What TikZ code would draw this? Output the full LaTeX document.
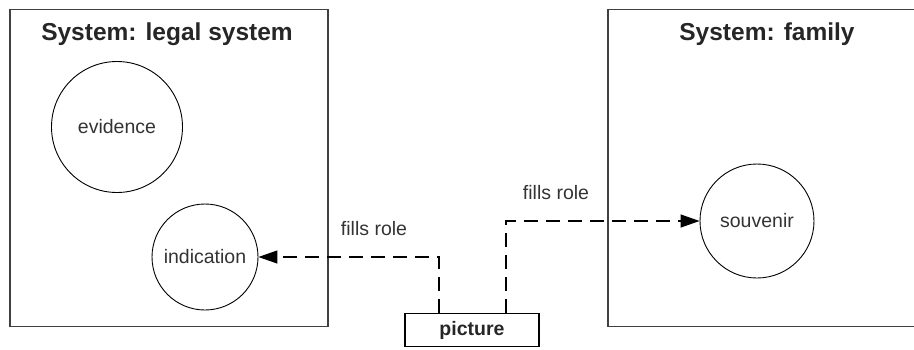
\documentclass[tikz,border=0pt]{standalone}
\usepackage{fontspec}
\setmainfont{Liberation Sans}
\usetikzlibrary{arrows.meta}

\begin{document}
\begin{tikzpicture}[x=1pt, y=-1pt,
	sysbox/.style={draw=black!75, line width=1.6pt, minimum width=318pt, minimum height=317pt, inner sep=0pt},
	systitle/.style={font=\fontsize{24.5}{29}\selectfont\bfseries, text=black!85},
	role/.style={circle, draw, line width=0.9pt, inner sep=0pt, font=\fontsize{19.5}{23}\selectfont, text=black!80},
	thing/.style={draw, line width=1.2pt, minimum width=134pt, minimum height=33pt, inner sep=0pt, font=\fontsize{19.5}{23}\selectfont\bfseries, text=black!85},
	fillsrole/.style={draw, line width=1.3pt, dash pattern=on 14pt off 8pt, -{Triangle[length=19pt, width=13pt]}},
	rolelabel/.style={font=\fontsize{19.5}{23}\selectfont, text=black!80}]
	\useasboundingbox (0,0) rectangle (914,349);
	\clip (0,0) rectangle (914,349);
	\node[sysbox] (legal) at (169,168) {};
	\node[sysbox] (family) at (767,168) {};
	\node[systitle] (legaltitle) at (167,34) {System: legal system};
	\node[systitle] (familytitle) at (767,34) {System: family};
	\node[role, minimum size=131pt] (evidence) at (117,127) {evidence};
	\node[role, minimum size=106pt] (indication) at (205,257) {indication};
	\node[role, minimum size=114pt] (souvenir) at (757,221) {souvenir};
	\node[thing] (picture) at (472,330) {picture};
	\node[rolelabel] (label1) at (374,229) {fills role};
	\node[rolelabel] (label2) at (556,193) {fills role};
	\draw[fillsrole] ([xshift=-33pt]picture.north) |- (indication);
	\draw[fillsrole] ([xshift=34pt]picture.north) |- (souvenir);
\end{tikzpicture}
\end{document}
